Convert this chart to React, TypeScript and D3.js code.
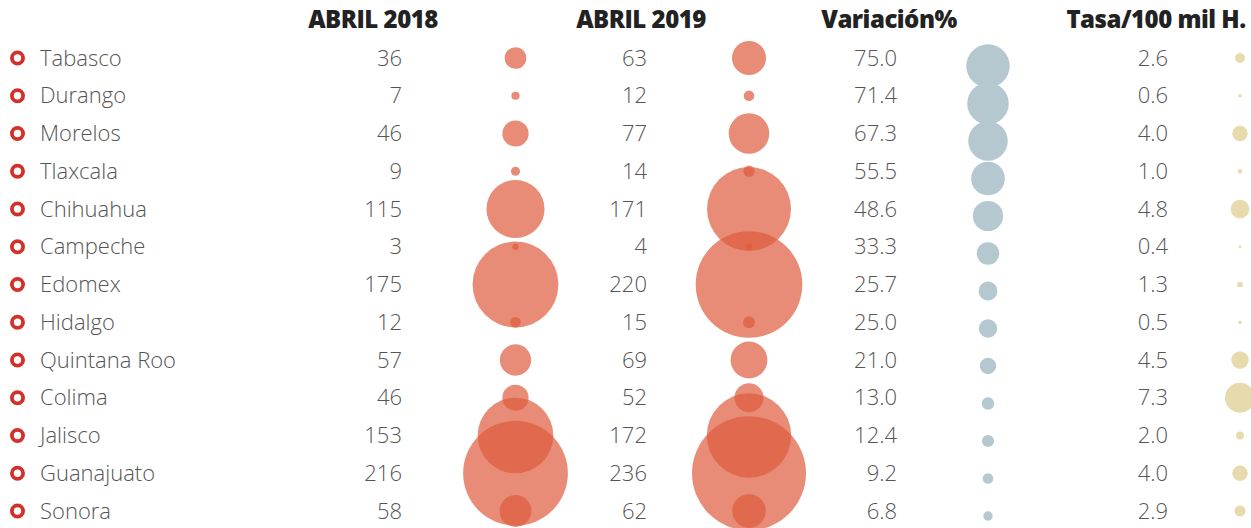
import React from "react";
import * as d3 from "d3";

// data
const states = [
  "Tabasco", "Durango", "Morelos", "Tlaxcala", "Chihuahua", "Campeche", "Edomex",
  "Hidalgo", "Quintana Roo", "Colima", "Jalisco", "Guanajuato", "Sonora",
];
const abril2018 = [36, 7, 46, 9, 115, 3, 175, 12, 57, 46, 153, 216, 58];
const abril2019 = [63, 12, 77, 14, 171, 4, 220, 15, 69, 52, 172, 236, 62];
const variacion = [75.0, 71.4, 67.3, 55.5, 48.6, 33.3, 25.7, 25.0, 21.0, 13.0, 12.4, 9.2, 6.8];
const tasa = [2.6, 0.6, 4.0, 1.0, 4.8, 0.4, 1.3, 0.5, 4.5, 7.3, 2.0, 4.0, 2.9];
const headers = ["ABRIL 2018", "ABRIL 2019", "Variación%", "Tasa/100 mil H."];

const width = 1251;
const height = 528;
const font = "'Open Sans', 'Noto Sans', sans-serif";

// column layout
const headerX = [373, 641, 889, 1156];
const numberX = [402, 647, 897, 1168];
const bubbleX = [515.5, 749, 988, 1240];

function App() {
  const y = d3.scalePoint<string>().domain(states).range([58, 511]);
  // the variation bubbles sit a little lower than the rows in the original
  const yVar = d3.scalePoint<string>().domain(states).range([66, 516]);

  const rCount = d3.scaleLinear().domain([0, 236]).range([2.5, 57]);
  const rVar = d3.scaleLinear().domain([0, 75]).range([3, 21.7]);
  const rTasa = d3.scalePow().exponent(1.25).domain([0, 7.3]).range([1.2, 15]);

  const fmt1 = d3.format(".1f");

  const numberCols = [
    { values: abril2018, f: (v: number) => String(v) },
    { values: abril2019, f: (v: number) => String(v) },
    { values: variacion, f: fmt1 },
    { values: tasa, f: fmt1 },
  ];

  return (
    <svg
      width={width}
      height={height}
      style={{ position: "absolute", left: 0, top: 0, background: "#fff" }}
    >
      {/* bubbles */}
      <g>
        {abril2018.map((v, i) => (
          <circle key={"a" + i} cx={bubbleX[0]} cy={y(states[i])} r={rCount(v)}
            fill="#de5b3d" fillOpacity={0.7} />
        ))}
        {abril2019.map((v, i) => (
          <circle key={"b" + i} cx={bubbleX[1]} cy={y(states[i])} r={rCount(v)}
            fill="#de5b3d" fillOpacity={0.7} />
        ))}
        {variacion.map((v, i) => (
          <circle key={"c" + i} cx={bubbleX[2]} cy={yVar(states[i])} r={rVar(v)}
            fill="#b5c8d0" />
        ))}
        {tasa.map((v, i) => (
          <circle key={"d" + i} cx={bubbleX[3]} cy={y(states[i])} r={rTasa(v)}
            fill="#e7dbae" />
        ))}
      </g>

      {/* headers */}
      {headers.map((h, i) => (
        <text key={h} x={headerX[i]} y={20} dy="0.35em" textAnchor="middle"
          fontFamily={font} fontWeight={800} fontSize={24} letterSpacing={-0.5}
          fill="#222">
          {h}
        </text>
      ))}

      {/* state rows */}
      {states.map((s) => (
        <g key={s} transform={`translate(0,${y(s)})`}>
          <circle cx={17.5} cy={0} r={5.6} fill="#fff" stroke="#d3302a" strokeWidth={3.8} />
          <text x={40} dy="0.35em" fontFamily={font} fontWeight={300} fontSize={22}
            fill="#555">
            {s}
          </text>
        </g>
      ))}

      {/* numbers */}
      {numberCols.map((col, c) =>
        col.values.map((v, i) => (
          <text key={c + "-" + i} x={numberX[c]} y={y(states[i])} dy="0.35em"
            textAnchor="end" fontFamily={font} fontWeight={300} fontSize={22}
            fill="#555">
            {col.f(v)}
          </text>
        ))
      )}
    </svg>
  );
}

export default App;
